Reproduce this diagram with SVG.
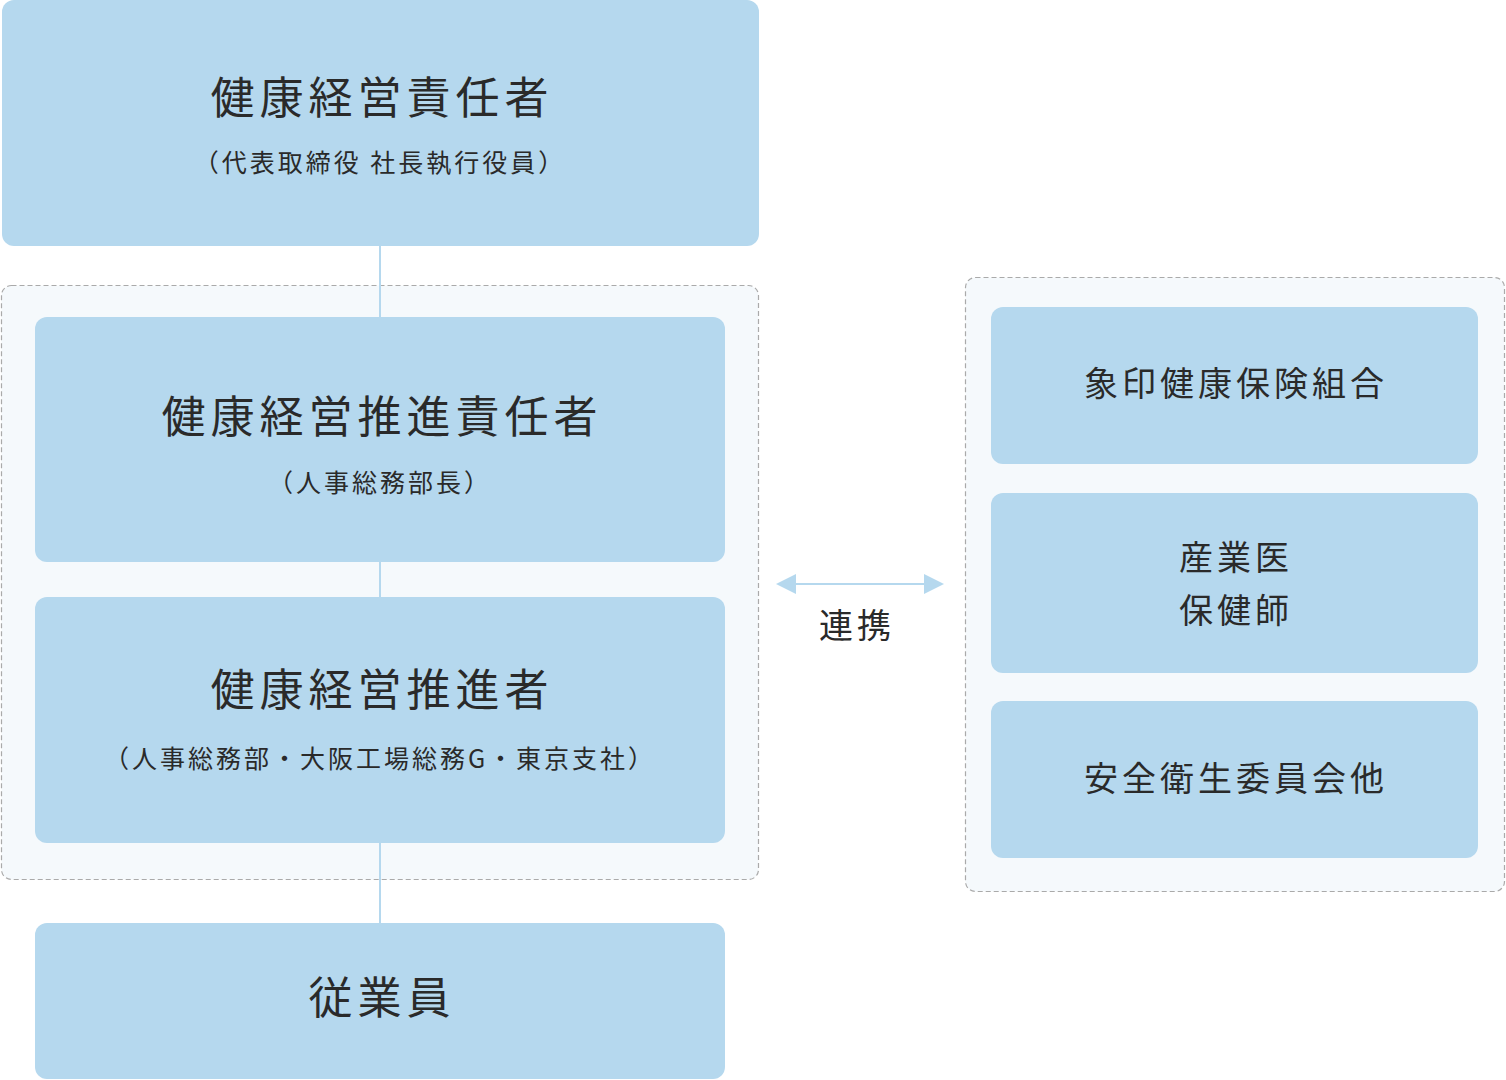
<svg xmlns="http://www.w3.org/2000/svg" width="1506" height="1080" viewBox="0 0 1506 1080">
<style>
.box{fill:#b5d8ee}
.grp{fill:#f5f9fc;stroke:#aaaaaa;stroke-width:1.2;stroke-dasharray:5 3}
text{font-family:"Noto Sans CJK JP","Noto Sans",sans-serif;fill:#2a2a2a;text-anchor:middle}
.big{font-size:44px;letter-spacing:5px}
.mid{font-size:34px;letter-spacing:4px}
.sm{font-size:25px;letter-spacing:3px}
.ln{stroke:#b5d8ee;stroke-width:2;fill:none}
</style>
<rect width="1506" height="1080" fill="#ffffff"/>
<g id="group-left"><rect class="grp" x="1.5" y="285.5" width="757" height="594" rx="10"/></g>
<g id="group-right"><rect class="grp" x="965.5" y="277.5" width="539" height="614" rx="10"/></g>
<g id="connectors">
<line class="ln" x1="380" y1="246" x2="380" y2="318"/>
<line class="ln" x1="380" y1="562" x2="380" y2="598"/>
<line class="ln" x1="380" y1="842" x2="380" y2="924"/>
<line class="ln" x1="792" y1="584" x2="928" y2="584"/>
<polygon points="776,584 796,574 796,594" fill="#b5d8ee"/>
<polygon points="944,584 924,574 924,594" fill="#b5d8ee"/>
<text x="857" y="638" class="mid">連携</text>
</g>
<g id="n1"><rect class="box" x="2" y="0" width="757" height="246" rx="12"/>
<text x="382" y="114" class="big">健康経営責任者</text>
<text x="380" y="172" class="sm">（代表取締役 社長執行役員）</text></g>
<g id="n2"><rect class="box" x="35" y="317" width="690" height="245" rx="12"/>
<text x="382" y="433" class="big">健康経営推進責任者</text>
<text x="380" y="492" class="sm">（人事総務部長）</text></g>
<g id="n3"><rect class="box" x="35" y="597" width="690" height="246" rx="12"/>
<text x="382" y="706" class="big">健康経営推進者</text>
<text x="380" y="768" class="sm">（人事総務部・大阪工場総務G・東京支社）</text></g>
<g id="n4"><rect class="box" x="35" y="923" width="690" height="156" rx="12"/>
<text x="382" y="1014" class="big">従業員</text></g>
<g id="r1"><rect class="box" x="991" y="307" width="487" height="157" rx="12"/>
<text x="1236" y="396" class="mid">象印健康保険組合</text></g>
<g id="r2"><rect class="box" x="991" y="493" width="487" height="180" rx="12"/>
<text x="1236" y="570" class="mid">産業医</text>
<text x="1236" y="623" class="mid">保健師</text></g>
<g id="r3"><rect class="box" x="991" y="701" width="487" height="157" rx="12"/>
<text x="1236" y="791" class="mid">安全衛生委員会他</text></g>
</svg>
